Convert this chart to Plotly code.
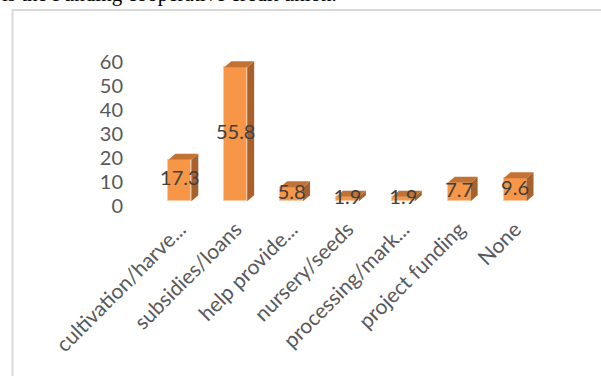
import plotly.graph_objects as go

categories = ["cultivation/harve...", "subsidies/loans", "help provide...", "nursery/seeds",
              "processing/mark...", "project funding", "None"]
values = [17.3, 55.8, 5.8, 1.9, 1.9, 7.7, 9.6]
y_ticks = [0, 10, 20, 30, 40, 50, 60]

W, H = 601, 376
FRONT = "#F79646"
SIDE = "#A8612C"
TOP = "#C27233"

base = 2.0      # floor offset of the 3D front face (styling)
hw = 0.205      # half bar width (category units)
dx = 0.125      # depth offset x (category units)
dy = 2.5        # depth offset y (value units)

fig = go.Figure()

xs = list(range(len(categories)))

# side and top faces
for i, v in zip(xs, values):
    xr = i + hw
    xl = i - hw
    top = base + v
    fig.add_trace(go.Scatter(
        x=[xr, xr + dx, xr + dx, xr, xr],
        y=[base, base + dy, top + dy, top, base],
        fill="toself", fillcolor=SIDE, mode="lines", line=dict(width=0, color=SIDE),
        hoverinfo="skip", showlegend=False, cliponaxis=False))
    fig.add_trace(go.Scatter(
        x=[xl, xl + dx, xr + dx, xr, xl],
        y=[top, top + dy, top + dy, top, top],
        fill="toself", fillcolor=TOP, mode="lines", line=dict(width=0, color=TOP),
        hoverinfo="skip", showlegend=False, cliponaxis=False))

fig.add_trace(go.Bar(
    x=xs, y=values, base=[base] * len(values), width=2 * hw,
    marker=dict(color=FRONT, line=dict(color="#FBC9A0", width=1)),
    showlegend=False, cliponaxis=False))

fig.add_trace(go.Scatter(
    x=xs, y=[base + v / 2 for v in values], mode="text",
    text=[f"{v:.1f}" for v in values],
    textfont=dict(family="Lato, Open Sans, sans-serif", size=20, color="#404040"),
    showlegend=False, cliponaxis=False, hoverinfo="skip"))

px_left, px_right = 124, 543
px_zero, px_per_unit = 206, 2.4
ymax = 65
top_px = px_zero - ymax * px_per_unit

fig.update_layout(
    template="none",
    width=W, height=H,
    margin=dict(l=0, r=0, t=0, b=0, pad=0),
    paper_bgcolor="white", plot_bgcolor="white",
    xaxis=dict(domain=[px_left / W, px_right / W], range=[-1, 6.5], automargin=False,
               tickmode="array", tickvals=xs, ticktext=categories,
               tickangle=-45, showgrid=False, zeroline=False, showline=False, ticks="",
               tickfont=dict(family="Lato, Open Sans, sans-serif", size=21, color="#595959"),
               ticklabelstandoff=6),
    yaxis=dict(domain=[(H - px_zero) / H, (H - top_px) / H], range=[0, ymax], automargin=False,
               tickmode="array", tickvals=y_ticks, showgrid=False, zeroline=False,
               showline=False, ticks="",
               tickfont=dict(family="Lato, Open Sans, sans-serif", size=20, color="#595959")),
    bargap=0,
    shapes=[dict(type="rect", xref="paper", yref="paper",
                 x0=12.5 / W, x1=1.2, y0=-0.2, y1=(H - 10) / H,
                 line=dict(color="#D9D9D9", width=2), fillcolor="rgba(0,0,0,0)")],
    annotations=[dict(text="is the Funding cooperative credit union.", xref="paper", yref="paper",
                      x=0, y=(H - 8) / H, xanchor="left", yanchor="bottom", showarrow=False,
                      font=dict(family="Liberation Serif", size=21, color="black"))],
)

fig.write_html("out.html", config={"displayModeBar": False},
               post_script="document.body.style.margin='0';")
